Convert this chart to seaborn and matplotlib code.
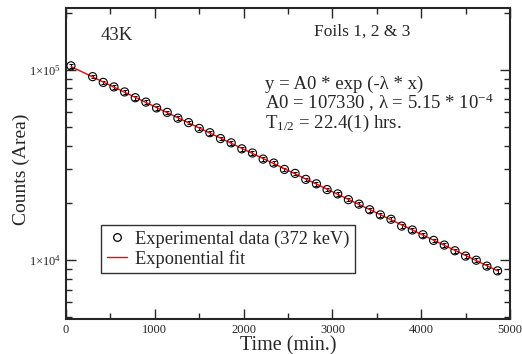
import numpy as np
import pandas as pd
import matplotlib
matplotlib.use("Agg")
import matplotlib.pyplot as plt
import seaborn as sns
from matplotlib.ticker import FixedLocator, LogLocator, NullFormatter, MultipleLocator
from matplotlib.lines import Line2D

# ---- data ----
time_min = [56, 300, 420, 540, 660, 780, 900, 1020, 1140, 1260, 1380, 1500, 1620,
            1740, 1860, 1980, 2100, 2220, 2340, 2460, 2580, 2700, 2820, 2940, 3060,
            3180, 3300, 3420, 3540, 3660, 3780, 3900, 4020, 4140, 4260, 4380, 4500,
            4620, 4740, 4860]
counts = [105200, 92300, 86100, 81500, 76700, 71500, 67800, 63200, 59900, 55800,
          52900, 49300, 46800, 43600, 41400, 38500, 36600, 34000, 32400, 30000,
          28600, 26600, 25200, 23500, 22300, 20800, 19700, 18400, 17300, 16400,
          15100, 14400, 13600, 12700, 12000, 11200, 10500, 9990, 9300, 8780]
count_err = [0.022 * c for c in counts]
fit_x = [56, 4860]
fit_y = [104270, 8785]

df = pd.DataFrame({"Time": time_min, "Counts": counts})
fit_df = pd.DataFrame({"Time": fit_x, "Counts": fit_y})

sns.set_style("ticks")
plt.rcParams["font.family"] = ["Liberation Serif", "DejaVu Serif"]
plt.rcParams["mathtext.fontset"] = "custom"
plt.rcParams["mathtext.rm"] = "Liberation Serif"
plt.rcParams["mathtext.it"] = "Liberation Serif:italic"

fig = plt.figure(figsize=(5.22, 3.54), dpi=100)
ax = fig.add_axes([66 / 522, 1 - 319 / 354, (510 - 66) / 522, (319 - 8) / 354])

ax.errorbar(time_min, counts, yerr=count_err, fmt="none", ecolor="black",
            elinewidth=0.7, capsize=1.5, capthick=0.7, zorder=2)
sns.lineplot(data=fit_df, x="Time", y="Counts", color="red", linewidth=1.0,
             ax=ax, zorder=3, label="_nolegend_")
sns.scatterplot(data=df, x="Time", y="Counts", marker="o", s=34,
                facecolor="none", edgecolor="black", linewidth=0.8, ax=ax, zorder=4,
                label="_nolegend_")

ax.set_yscale("log")
ax.set_xlim(0, 5000)
ax.set_ylim(4900, 2.12e5)

ax.xaxis.set_major_locator(MultipleLocator(1000))
ax.xaxis.set_minor_locator(MultipleLocator(500))
ax.yaxis.set_major_locator(FixedLocator([1e4, 1e5]))
ax.yaxis.set_minor_locator(LogLocator(base=10, subs=np.arange(2, 10)))
ax.yaxis.set_minor_formatter(NullFormatter())
ax.set_yticklabels([r"1$\times$10$^4$", r"1$\times$10$^5$"])
ax.tick_params(which="both", direction="in", top=True, right=True, labelsize=9,
               width=1.0)
ax.tick_params(which="major", length=7)
ax.tick_params(which="minor", length=4)
for s in ax.spines.values():
    s.set_linewidth(1.5)

ax.set_xlabel("Time (min.)", fontsize=14.5, labelpad=0)
ax.set_ylabel("Counts (Area)", fontsize=14)
ax.yaxis.set_label_coords(-0.082, 0.48)

ax.text(0.078, 0.913, "43K", transform=ax.transAxes, fontsize=13.5, va="center")
ax.text(0.558, 0.925, "Foils 1, 2 & 3", transform=ax.transAxes, fontsize=12.5,
        va="center")
ax.text(0.448, 0.755, "y = A0 * exp (-λ * x)", transform=ax.transAxes,
        fontsize=13.5, va="center")
ax.text(0.448, 0.695, r"A0 = 107330 , λ = 5.15 * 10$^{-4}$", transform=ax.transAxes,
        fontsize=13.5, va="center")
ax.text(0.448, 0.628, r"T$_{1/2}$ = 22.4(1) hrs.", transform=ax.transAxes,
        fontsize=13.5, va="center")

handles = [Line2D([], [], marker="o", linestyle="none", markerfacecolor="none",
                  markeredgecolor="black", markersize=5.5, markeredgewidth=0.9),
           Line2D([], [], color="red", linewidth=1.0)]
leg = ax.legend(handles, ["Experimental data (372 keV)", "Exponential fit"],
                loc="upper left", bbox_to_anchor=((101 - 66) / 444, 1 - (225 - 8) / 311),
                fontsize=13.2, frameon=True, fancybox=False, edgecolor="black",
                borderpad=0.3, handlelength=1.1, handletextpad=0.45, labelspacing=0.12,
                borderaxespad=0)
leg.get_frame().set_linewidth(1.0)

fig.savefig("out.png", dpi=100)
